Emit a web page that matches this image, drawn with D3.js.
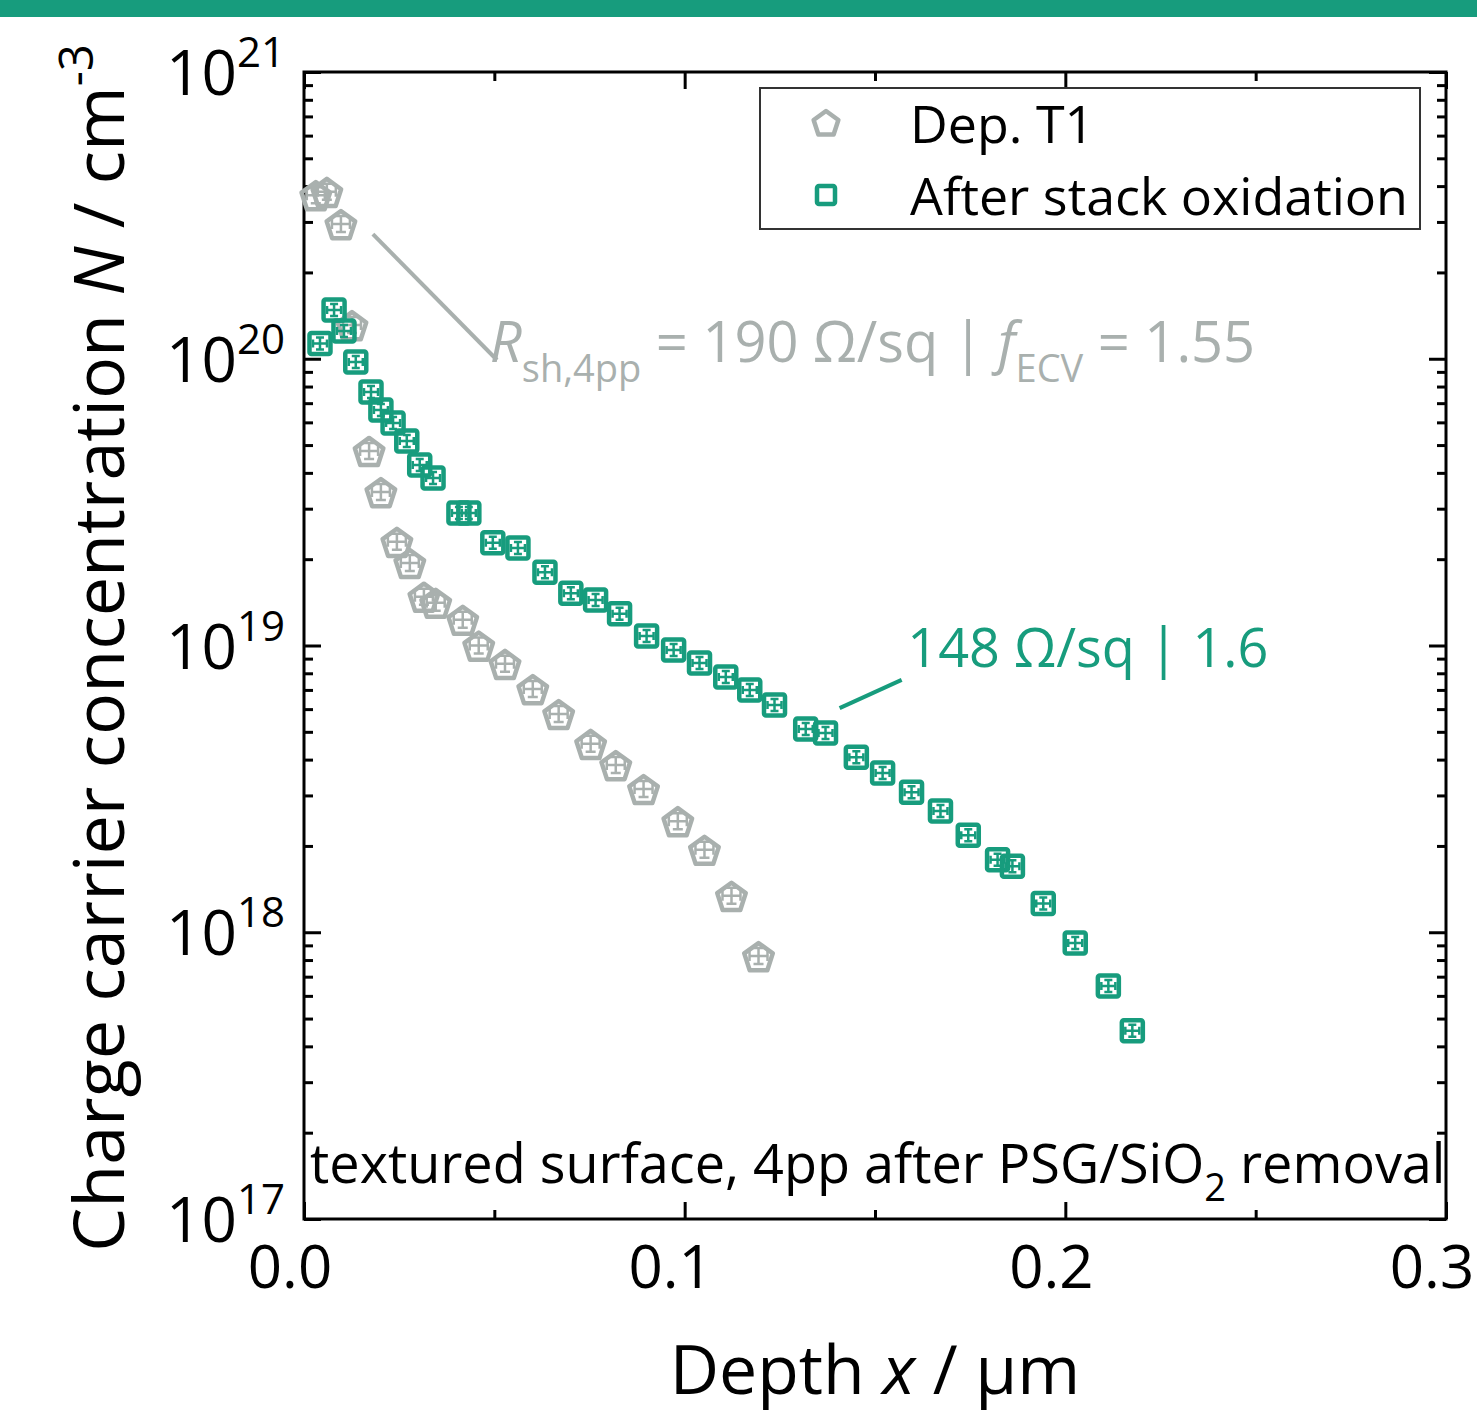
<!DOCTYPE html>
<html>
<head>
<meta charset="utf-8">
<script src="https://cdn.jsdelivr.net/npm/d3@7"></script>
<style>
  body { margin: 0; background: #fff; }
  svg { display: block; font-family: "Open Sans", "Noto Sans", sans-serif; }
</style>
</head>
<body>
<div id="chart"></div>
<script>
// Dep. T1 (grey pentagons)
const depthT1 = [0.0031, 0.0060, 0.0097, 0.0126, 0.0171, 0.0202, 0.0244, 0.0278, 0.0315, 0.0346, 0.0417,
  0.0459, 0.0528, 0.0601, 0.0669, 0.0753, 0.0819, 0.0892, 0.0982, 0.1052, 0.1123, 0.1194];
const concT1 = [3.72e20, 3.82e20, 2.95e20, 1.31e20, 4.77e19, 3.43e19, 2.30e19, 1.94e19, 1.48e19, 1.41e19, 1.23e19,
  1.00e19, 8.63e18, 7.05e18, 5.77e18, 4.54e18, 3.83e18, 3.16e18, 2.44e18, 1.94e18, 1.34e18, 8.26e17];

// After stack oxidation (green squares)
const depthOx = [0.0042, 0.0079, 0.0105, 0.0136, 0.0176, 0.0202, 0.0234, 0.0270, 0.0304, 0.0339, 0.0407, 0.0433,
  0.0496, 0.0562, 0.0633, 0.0701, 0.0766, 0.0829, 0.0900, 0.0971, 0.1039, 0.1108, 0.1171, 0.1236, 0.1318,
  0.1370, 0.1451, 0.1520, 0.1596, 0.1672, 0.1745, 0.1822, 0.1861, 0.1942, 0.2026, 0.2113, 0.2176];
const concOx = [1.13e20, 1.48e20, 1.25e20, 9.75e19, 7.66e19, 6.63e19, 5.97e19, 5.17e19, 4.26e19, 3.84e19, 2.90e19, 2.90e19,
  2.28e19, 2.19e19, 1.80e19, 1.52e19, 1.44e19, 1.29e19, 1.08e19, 9.64e18, 8.69e18, 7.76e18, 7.00e18, 6.20e18, 5.11e18,
  4.95e18, 4.08e18, 3.59e18, 3.08e18, 2.65e18, 2.18e18, 1.79e18, 1.70e18, 1.26e18, 9.18e17, 6.50e17, 4.53e17];

const xTicks = [0.0, 0.1, 0.2, 0.3];
const xTickLabels = ["0.0", "0.1", "0.2", "0.3"];
const yTicks = [1e17, 1e18, 1e19, 1e20, 1e21];
const yTickExp = ["17", "18", "19", "20", "21"];
const legendLabels = ["Dep. T1", "After stack oxidation"];

const green = "#179c7d", grey = "#a9b0ae";

const W = 1477, H = 1416;
const margin = {top: 72, right: 31, bottom: 197, left: 304};
const width = W - margin.left - margin.right,
  height = H - margin.top - margin.bottom;

const svg = d3.select("#chart").append("svg")
  .attr("width", W).attr("height", H);

// green band on top
svg.append("rect").attr("x", 0).attr("y", 0).attr("width", W).attr("height", 17).attr("fill", green);

const g = svg.append("g").attr("transform", "translate(" + margin.left + "," + margin.top + ")");

const x = d3.scaleLinear().domain([0, 0.3]).range([0, width]);
const y = d3.scaleLog().domain([1e17, 1e21]).range([height, 0]);

// minor + major ticks, all inward
const minorX = d3.range(0.05, 0.3, 0.1);
const minorY = [];
for (let e = 17; e < 21; e++) for (let m = 2; m <= 9; m++) minorY.push(m * Math.pow(10, e));

const tickStyle = sel => sel.select(".domain").remove();
g.append("g").attr("transform", "translate(0," + height + ")")
  .call(d3.axisTop(x).tickValues(xTicks).tickSize(17).tickFormat("")).call(tickStyle);
g.append("g").attr("transform", "translate(0," + height + ")")
  .call(d3.axisTop(x).tickValues(minorX).tickSize(9).tickFormat("")).call(tickStyle);
g.append("g")
  .call(d3.axisBottom(x).tickValues(xTicks).tickSize(17).tickFormat("")).call(tickStyle);
g.append("g")
  .call(d3.axisBottom(x).tickValues(minorX).tickSize(9).tickFormat("")).call(tickStyle);
g.append("g")
  .call(d3.axisRight(y).tickValues(yTicks).tickSize(17).tickFormat("")).call(tickStyle);
g.append("g")
  .call(d3.axisRight(y).tickValues(minorY).tickSize(9).tickFormat("")).call(tickStyle);
g.append("g").attr("transform", "translate(" + width + ",0)")
  .call(d3.axisLeft(y).tickValues(yTicks).tickSize(17).tickFormat("")).call(tickStyle);
g.append("g").attr("transform", "translate(" + width + ",0)")
  .call(d3.axisLeft(y).tickValues(minorY).tickSize(9).tickFormat("")).call(tickStyle);
g.selectAll(".tick line").attr("stroke", "#000").attr("stroke-width", 3);

g.append("rect").attr("width", width).attr("height", height)
  .attr("fill", "none").attr("stroke", "#000").attr("stroke-width", 3);

// tick labels
g.selectAll(".xlab").data(xTicks).enter().append("text")
  .attr("x", d => x(d) - 14).attr("y", height + 69)
  .attr("text-anchor", "middle").attr("font-size", 60)
  .text((d, i) => xTickLabels[i]);

const yl = g.selectAll(".ylab").data(yTicks).enter().append("text")
  .attr("x", -19).attr("y", d => y(d) + 23)
  .attr("text-anchor", "end").attr("font-size", 62);
yl.append("tspan").text("10");
yl.append("tspan").attr("dy", -28).attr("font-size", 42).text((d, i) => yTickExp[i]);

// axis titles
const xt = svg.append("text").attr("x", 875).attr("y", 1394)
  .attr("text-anchor", "middle").attr("font-size", 68);
xt.append("tspan").text("Depth ");
xt.append("tspan").attr("font-style", "italic").text("x");
xt.append("tspan").text(" / µm");

const yt = svg.append("text").attr("transform", "translate(124,648) rotate(-90)")
  .attr("text-anchor", "middle").attr("font-size", 70);
yt.append("tspan").text("Charge carrier concentration ");
yt.append("tspan").attr("font-style", "italic").text("N");
yt.append("tspan").text(" / cm");
yt.append("tspan").attr("dy", -31).attr("font-size", 47).text("-3");

// markers
const pentagon = r => {
  const pts = d3.range(5).map(i => {
    const a = -Math.PI / 2 + i * 2 * Math.PI / 5;
    return [r * Math.cos(a), r * Math.sin(a)];
  });
  return "M" + pts.map(p => p.join(",")).join("L") + "Z";
};
const errPath = (hx, hy, c) =>
  "M" + (-hx) + ",0H" + hx + "M" + (-hx) + "," + (-c) + "V" + c + "M" + hx + "," + (-c) + "V" + c +
  "M0," + (-hy) + "V" + hy + "M" + (-c) + "," + (-hy) + "H" + c + "M" + (-c) + "," + hy + "H" + c;

const t1 = depthT1.map((d, i) => ({x: d, y: concT1[i]}));
const ox = depthOx.map((d, i) => ({x: d, y: concOx[i]}));

const gT1 = g.append("g").selectAll("g").data(t1).enter().append("g")
  .attr("transform", d => "translate(" + x(d.x) + "," + y(d.y) + ")");
gT1.append("path").attr("d", errPath(9, 8, 5)).attr("fill", "none").attr("stroke", grey).attr("stroke-width", 2.5);
gT1.append("path").attr("d", pentagon(15)).attr("transform", "translate(0,2)")
  .attr("fill", "none").attr("stroke", grey).attr("stroke-width", 4.5).attr("stroke-linejoin", "round");

const gOx = g.append("g").selectAll("g").data(ox).enter().append("g")
  .attr("transform", d => "translate(" + x(d.x) + "," + y(d.y) + ")");
gOx.append("path").attr("d", errPath(7, 6, 4)).attr("fill", "none").attr("stroke", green).attr("stroke-width", 2.5);
gOx.append("rect").attr("x", -10.5).attr("y", -10.5).attr("width", 21).attr("height", 21).attr("rx", 2)
  .attr("fill", "none").attr("stroke", green).attr("stroke-width", 4.5);

// annotations
g.append("line").attr("x1", x(0.0181)).attr("y1", y(2.72e20)).attr("x2", x(0.0507)).attr("y2", y(9.9e19))
  .attr("stroke", grey).attr("stroke-width", 4);
g.append("line").attr("x1", x(0.1407)).attr("y1", y(6.05e18)).attr("x2", x(0.157)).attr("y2", y(7.59e18))
  .attr("stroke", green).attr("stroke-width", 4);

const ra = g.append("text").attr("x", x(0.0488)).attr("y", y(Math.pow(10, 19.989)))
  .attr("font-size", 56).attr("fill", grey);
ra.append("tspan").attr("font-style", "italic").text("R");
ra.append("tspan").attr("font-size", 38).attr("dy", 20).text("sh,4pp");
ra.append("tspan").attr("dy", -20).text(" = 190 Ω/sq | ");
ra.append("tspan").attr("font-style", "italic").text("f");
ra.append("tspan").attr("font-size", 38).attr("dy", 20).text("ECV");
ra.append("tspan").attr("dy", -20).text(" = 1.55");

g.append("text").attr("x", x(0.1585)).attr("y", y(8.41e18))
  .attr("font-size", 54).attr("fill", green).text("148 Ω/sq | 1.6");

const tx = g.append("text").attr("x", x(0.0016)).attr("y", y(Math.pow(10, 17.125)))
  .attr("font-size", 54).attr("fill", "#000");
tx.append("tspan").text("textured surface, 4pp after PSG/SiO");
tx.append("tspan").attr("font-size", 38).attr("dy", 18).text("2");
tx.append("tspan").attr("dy", -18).text(" removal");

// legend
const lg = svg.append("g");
lg.append("rect").attr("x", 760).attr("y", 88).attr("width", 660).attr("height", 141)
  .attr("fill", "#fff").attr("stroke", "#333").attr("stroke-width", 2);
lg.append("path").attr("d", pentagon(13)).attr("transform", "translate(826,124)")
  .attr("fill", "none").attr("stroke", grey).attr("stroke-width", 4.5).attr("stroke-linejoin", "round");
lg.append("rect").attr("x", 817).attr("y", 186).attr("width", 18).attr("height", 18).attr("rx", 2)
  .attr("fill", "none").attr("stroke", green).attr("stroke-width", 4.5);
lg.selectAll(".lt").data(legendLabels).enter().append("text")
  .attr("x", 910).attr("y", (d, i) => 143 + i * 72)
  .attr("font-size", 52).text(d => d);
</script>
</body>
</html>
